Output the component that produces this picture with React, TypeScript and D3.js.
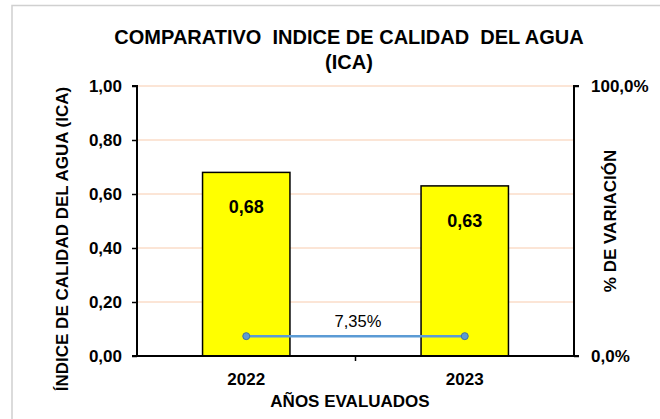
import React, { useEffect, useRef } from 'react';
import * as d3 from 'd3';

const years = ['2022', '2023'];
const icaValues = [0.68, 0.63];
const icaLabels = ['0,68', '0,63'];
const variation = [0.0735, 0.0735];
const variationLabel = '7,35%';
const leftTicks = [0, 0.2, 0.4, 0.6, 0.8, 1];
const rightTicks = [0, 1];

const App = () => {
  const ref = useRef<SVGSVGElement>(null);

  useEffect(() => {
    const svg = d3.select(ref.current);
    svg.selectAll('*').remove();

    const font = 'Liberation Sans, Arial, sans-serif';
    const left = 137, right = 574, top = 86, bottom = 356;

    // chart frame
    svg.append('rect')
      .attr('x', 12).attr('y', 5.5)
      .attr('width', 700).attr('height', 500)
      .attr('fill', '#fff')
      .attr('stroke', '#d0d0d0').attr('stroke-width', 1.5);

    const x = d3.scaleBand().domain(years).range([left, right]).padding(0);
    const y = d3.scaleLinear().domain([0, 1]).range([bottom, top]);
    const y2 = d3.scaleLinear().domain([0, 1]).range([bottom, top]);

    // gridlines
    svg.append('g')
      .selectAll('line')
      .data(leftTicks.filter(d => d > 0))
      .enter().append('line')
      .attr('x1', left).attr('x2', right)
      .attr('y1', d => y(d)).attr('y2', d => y(d))
      .attr('stroke', '#f8cbad').attr('stroke-width', 1);

    // bars
    const barW = x.bandwidth() * 0.4;
    svg.selectAll('.bar')
      .data(icaValues)
      .enter().append('rect')
      .attr('class', 'bar')
      .attr('x', (d, i) => x(years[i])! + (x.bandwidth() - barW) / 2)
      .attr('width', barW)
      .attr('y', d => y(d))
      .attr('height', d => bottom - y(d))
      .attr('fill', '#ffff00')
      .attr('stroke', '#000').attr('stroke-width', 1.5);

    svg.selectAll('.barlabel')
      .data(icaValues)
      .enter().append('text')
      .attr('class', 'barlabel')
      .attr('x', (d, i) => x(years[i])! + x.bandwidth() / 2)
      .attr('y', d => y(d) + 41)
      .attr('text-anchor', 'middle')
      .attr('font-family', font).attr('font-weight', 'bold').attr('font-size', 18)
      .text((d, i) => icaLabels[i]);

    // left axis
    const axL = svg.append('g')
      .attr('transform', `translate(${left},0)`)
      .call(d3.axisLeft(y).tickValues(leftTicks).tickSize(5).tickPadding(10)
        .tickFormat(d => d3.format('.2f')(d as number).replace('.', ',')));
    axL.select('.domain').attr('stroke-width', 2).attr('d', `M-5,${top}H0V${bottom}H-5`);
    axL.selectAll('.tick line').attr('stroke-width', 1.5);
    axL.selectAll('text')
      .attr('font-family', font).attr('font-weight', 'bold').attr('font-size', 17).attr('fill', '#000');

    // right axis
    const axR = svg.append('g')
      .attr('transform', `translate(${right},0)`)
      .call(d3.axisRight(y2).tickValues(rightTicks).tickSize(5).tickPadding(12)
        .tickFormat(d => d3.format('.1f')((d as number) * 100).replace('.', ',') + '%'));
    axR.select('.domain').attr('stroke-width', 2).attr('d', `M5,${top}H0V${bottom}H5`);
    axR.selectAll('.tick line').attr('stroke-width', 1.5);
    axR.selectAll('text')
      .attr('font-family', font).attr('font-weight', 'bold').attr('font-size', 17).attr('fill', '#000');

    // bottom axis
    svg.append('line')
      .attr('x1', left).attr('x2', right).attr('y1', bottom).attr('y2', bottom)
      .attr('stroke', '#000').attr('stroke-width', 2);
    svg.selectAll('.xtick')
      .data(years.slice(1))
      .enter().append('line')
      .attr('class', 'xtick')
      .attr('x1', d => x(d)!).attr('x2', d => x(d)!)
      .attr('y1', bottom).attr('y2', bottom + 5)
      .attr('stroke', '#000').attr('stroke-width', 1.5);
    svg.selectAll('.xlabel')
      .data(years)
      .enter().append('text')
      .attr('class', 'xlabel')
      .attr('x', d => x(d)! + x.bandwidth() / 2)
      .attr('y', 385)
      .attr('text-anchor', 'middle')
      .attr('font-family', font).attr('font-weight', 'bold').attr('font-size', 17)
      .text(d => d);

    // variation line
    const line = d3.line<number>()
      .x((d, i) => x(years[i])! + x.bandwidth() / 2)
      .y(d => y2(d));
    svg.append('path')
      .datum(variation)
      .attr('d', line)
      .attr('fill', 'none')
      .attr('stroke', '#5b9bd5').attr('stroke-width', 2.5);
    svg.selectAll('.pt')
      .data(variation)
      .enter().append('circle')
      .attr('class', 'pt')
      .attr('cx', (d, i) => x(years[i])! + x.bandwidth() / 2)
      .attr('cy', d => y2(d))
      .attr('r', 3.5)
      .attr('fill', '#5b9bd5')
      .attr('stroke', '#41719c').attr('stroke-width', 1);
    svg.append('text')
      .attr('x', 358)
      .attr('y', y2(variation[0]) - 9)
      .attr('text-anchor', 'middle')
      .attr('font-family', font).attr('font-size', 16.5).attr('fill', '#000')
      .text(variationLabel);

    // titles
    svg.append('text')
      .attr('x', 349).attr('y', 44)
      .attr('text-anchor', 'middle')
      .attr('font-family', font).attr('font-weight', 'bold').attr('font-size', 20)
      .text('COMPARATIVO  INDICE DE CALIDAD  DEL AGUA')
      .attr('xml:space', 'preserve').style('white-space', 'pre');
    svg.append('text')
      .attr('x', 349).attr('y', 69)
      .attr('text-anchor', 'middle')
      .attr('font-family', font).attr('font-weight', 'bold').attr('font-size', 20)
      .text('(ICA)');

    svg.append('text')
      .attr('transform', `translate(68,239) rotate(-90)`)
      .attr('text-anchor', 'middle')
      .attr('font-family', font).attr('font-weight', 'bold').attr('font-size', 17)
      .text('ÍNDICE DE CALIDAD DEL AGUA (ICA)');
    svg.append('text')
      .attr('transform', `translate(616,221) rotate(-90)`)
      .attr('text-anchor', 'middle')
      .attr('font-family', font).attr('font-weight', 'bold').attr('font-size', 17)
      .text('% DE VARIACIÓN');
    svg.append('text')
      .attr('x', 350).attr('y', 407)
      .attr('text-anchor', 'middle')
      .attr('font-family', font).attr('font-weight', 'bold').attr('font-size', 17)
      .text('AÑOS EVALUADOS');
  }, []);

  return (
    <svg ref={ref} width={660} height={419}
      style={{ position: 'absolute', left: 0, top: 0, background: '#fff' }} />
  );
};

export default App;
